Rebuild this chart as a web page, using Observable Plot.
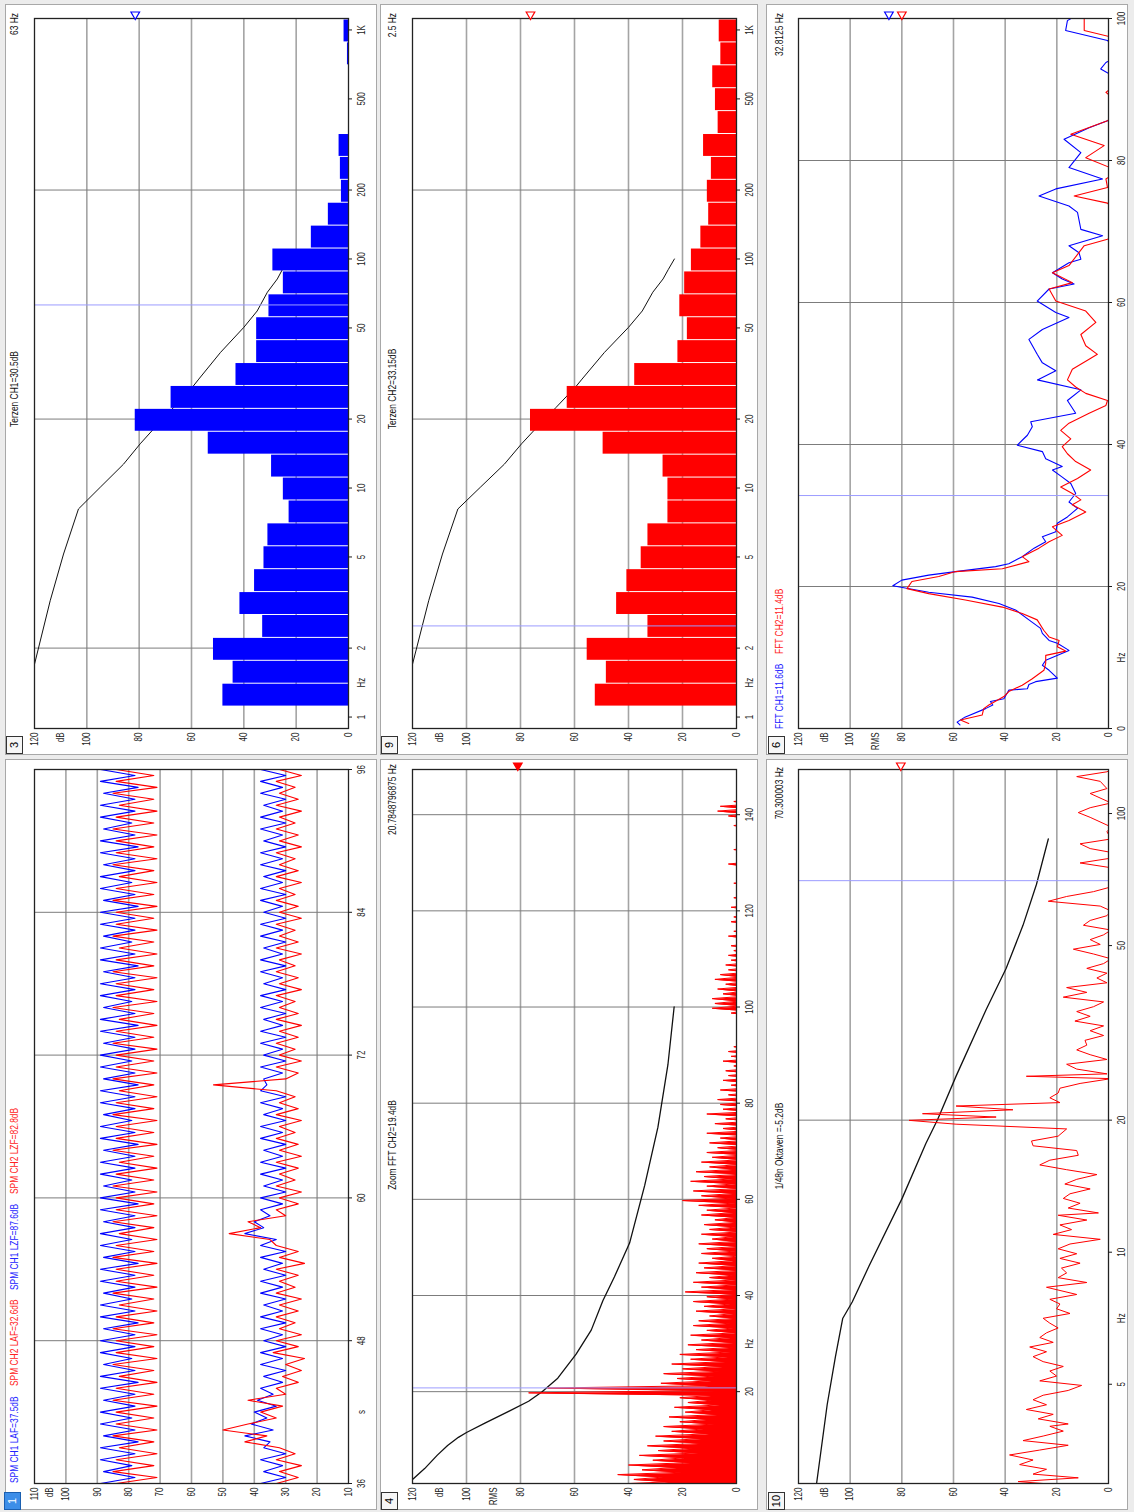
<!DOCTYPE html>
<html><head><meta charset="utf-8">
<script src="https://cdn.jsdelivr.net/npm/d3@7"></script>
<script src="https://cdn.jsdelivr.net/npm/@observablehq/plot@0.6"></script>
<style>
html,body{margin:0;padding:0;background:#ececec;}
body{width:1134px;height:1512px;overflow:hidden;position:relative;}
#root{position:absolute;left:0;top:0;width:1512px;height:1134px;transform-origin:0 0;transform:translate(0px,1512px) rotate(-90deg);background:#ececec;font-family:"Liberation Sans",Arial,sans-serif;}
.panel{position:absolute;background:#fff;border:1px solid #a8a8a8;box-sizing:border-box;}
.t{position:absolute;font-size:10.5px;line-height:12px;white-space:nowrap;color:#111;transform-origin:0 50%;}
.tab{position:absolute;height:15px;min-width:14px;padding:0 1px;border:1px solid #333;background:#f6f6f6;font-size:11px;text-align:center;line-height:15px;font-family:"Liberation Sans",Arial,sans-serif;color:#000;}
.tab.sel{background:#3d8ee8;color:#fff;border-color:#1a5fb0;}
svg{position:absolute;}
</style></head>
<body><div id="root"></div>
<script>
// ---------------- DATA ----------------
// Panel 1: SPM time history (s), 0.5 s samples from 36 s
const spmStart = 36, spmStep = 0.5;
const lafCh1 = [38,30,37,31,38,30,37,35,43,34, 41,36,40,33,39,34,38,31,37,30,
  38,31,38,30,37,31,38,30,38,31, 37,30,38,31,38,30,37,31,38,30,
  38,33,43,37,40,35,38,31,38,30, 37,31,38,30,38,31,37,30,38,31,
  38,30,37,31,38,30,38,36,37,31, 38,30,37,31,38,30,38,31,37,30,
  38,31,38,30,37,31,38,30,38,31, 37,30,38,31,38,30,37,31,38,30,
  38,31,37,30,38,31,38,30,37,31, 38,30,38,31,37,30,38,31,38,30, 38];
const lafCh2 = [33,26,32,25,33,27,32,43,36,50, 42,33,38,31,42,30,33,26,31,25,
  30,24,34,26,33,25,32,27,33,26, 32,25,33,27,32,26,33,24,32,26,
  33,35,48,38,42,30,33,26,32,25, 33,27,32,26,33,25,32,26,33,27,
  32,25,33,26,32,27,33,53,30,26, 33,25,32,27,33,26,32,25,33,26,
  32,27,33,25,32,26,33,27,32,25, 33,26,32,27,33,25,32,26,33,27,
  32,25,33,26,32,27,33,25,32,26, 33,27,32,25,33,26,32,27,33,25, 32];
const lzfCh1 = [89,78,88,79,89,78,89,77,88,78, 89,79,89,78,88,78,89,77,89,78,
  88,79,89,78,89,78,88,77,89,78, 89,79,88,78,89,78,89,77,88,78,
  89,79,89,78,88,78,89,77,89,78, 88,79,89,78,89,78,88,77,89,78,
  89,79,88,78,89,78,89,77,88,78, 89,79,89,78,88,78,89,77,89,78,
  88,79,89,78,89,78,88,77,89,78, 89,79,88,78,89,78,89,77,88,78,
  89,79,89,78,88,78,89,77,89,78, 88,79,89,78,89,78,88,77,89,78, 89];
const lzfCh2 = [84,71,85,72,84,71,83,72,85,71, 84,72,84,71,85,72,84,71,83,72,
  85,71,84,72,84,71,85,72,84,71, 83,72,85,71,84,72,84,71,85,72,
  84,71,83,72,85,71,84,72,84,71, 85,72,84,71,83,72,85,71,84,72,
  84,71,85,72,84,71,83,72,85,71, 84,72,84,71,85,72,84,71,83,72,
  85,71,84,72,84,71,85,72,84,71, 83,72,85,71,84,72,84,71,85,72,
  84,71,83,72,85,71,84,72,84,71, 85,72,84,71,83,72,85,71,84,72, 84];
const spmTicks = [36,48,60,72,84,96];

// Panels 3 & 9: third-octave bands
const terzBands = [1.25,1.6,2,2.5,3.15,4,5,6.3,8,10,12.5,16,20,25,31.5,40,50,63,80,100,125,160,200,250,315,400,500,630,800,1000];
const terzCh1 = [48.0,44.1,51.6,32.8,41.5,35.9,32.3,30.8,22.7,24.9,29.4,53.6,81.5,67.8,43.0,35.1,35.1,30.4,24.9,28.9,14.2,7.7,2.7,3.1,3.6,0,0,0,0.4,1.7];
const terzCh2 = [52.3,48.2,55.3,32.8,44.4,40.6,35.3,32.8,25.4,25.4,27.2,49.4,76.3,62.7,37.7,21.7,18.2,21.0,19.2,16.7,13.2,10.3,10.8,9.3,12.2,6.8,7.8,8.8,5.8,6.4];
const thrHz = [1.7,3.22,5.15,8.1,10.07,12.7,15.6,18.1,22.5,27.8,29.9,39.1,50.3,59.3,71.6,81.8,89.8,100];
const thrDb = [120,114,108.9,103.2,94.9,86,79.6,74.5,66.8,59.4,57.2,48.9,40,34.9,31,27.2,25.3,23];
const terzTicks = [1,2,5,10,20,50,100,200,500,1000];

// Panel 4: zoom FFT CH2, per 1 Hz bin: trough and peak
const fft4Lo = [30,25,27,20,22,17,19,14,16,12, 13,10,12,8,10,7,9,6,9,8,
  8,10,9,8,6,5,4,3,2,1, 1,2,0,1,2,0,1,0,2,1,
  0,1,-1,0,1,-1,0,1,-2,0, -1,0,1,-2,0,-1,0,1,-1,0,
  1,0,-1,0,1,-2,0,-1,-2,-3, -3,-4,-3,-5,-4,-5,-6,-5,-6,-5,
  -6,-5,-7,-6,-5,-7,-6,-7,-6,-7, -7,-7,-7,-7,-7,-7,-7,-7,-7,-3,
  -2,-1,-3,-2,-4,-3,-2,-5,-6,-5, -6,-5,-6,-7,-6,-7,-6,-7,-6,-7,
  -7,-6,-7,-7,-6,-7,-7,-6,-7,-5, -7,-6,-7,-7,-6,-7,-7,-6,-7,-5,
  -4,-5,-7,-7,-7,-7,-7,-7,-7,-7];
const fft4Hi = [46,38,44,35,40,31,36,29,33,27, 30,24,27,21,25,19,23,18,21,77,
  70,28,22,27,20,24,17,21,15,18, 13,17,11,16,14,10,15,12,16,11,
  19,13,16,10,15,12,14,9,13,11, 14,9,13,10,12,8,13,11,14,20,
  13,16,11,17,12,15,10,13,9,11, 7,10,6,11,5,8,4,11,5,6,
  7,3,6,2,5,3,4,1,5,2, 3,1,0,-1,0,-2,-1,0,2,9,
  8,9,5,7,4,8,6,3,4,2, 3,1,2,0,3,1,0,2,1,0,
  2,0,1,-1,0,1,-1,0,-2,3, 0,-1,1,-2,0,-1,0,1,0,3,
  7,6,1,-2,-3,-2,-3,-2,-3,-2];
const thr4Hz = [1.75,4,6.8,8.8,10.5,11.5,13.5,16,18,20,22.8,27.8,32.8,38.9,43.9,50.9,62.9,75,88,100];
const thr4Db = [120,115.5,110.8,107,103,100,93,84,77,72,66.2,59.4,53.8,49.5,45.2,39.6,34,29.1,25.4,23.1];
const fft4Ticks = [20,40,60,80,100,120,140];

// Panel 6: FFT CH1 / CH2 (0-100 Hz)
const fftCh1Hz = [0.5,0.9,1.6,2.8,3.3,3.8,4.2,5.4,5.6,6.2, 6.6,7.1,8.2,8.9,9.6,11.0,12.0,12.4,13.4,14.1,
  15.3,16.7,17.6,18.5,19.2,20.1,20.9,21.6,22.1,22.8, 23.2,24.2,25.4,26.3,27.0,27.7,28.9,29.8,31.0,31.9,
  33.1,34.5,35.4,36.4,36.9,38.0,39.0,39.9,40.6,41.3, 42.5,43.2,44.4,46.2,47.7,49.1,50.4,51.5,52.7,54.8,
  56.2,57.9,58.6,60.2,61.9,62.6,63.3,64.2,65.6,66.1, 67.0,68.0,69.4,70.3,72.7,73.6,75.0,76.0,77.4,79.0,
  81.1,83.0,84.6,85.6,87.0,91.0,92.9,93.8,95.0,96.9, 98.3,99.7,100];
const fftCh1Db = [57.5,58.6,55.6,47.6,44.8,45.7,40.5,38.6,31.4,30.8, 28.2,19.8,23.0,25.6,24.3,15.3,19.8,23.0,25.6,26.3,
  30.8,36.0,42.4,52.8,69.6,83.5,80.0,69.6,59.2,43.7, 38.6,33.4,28.8,24.3,25.6,20.4,19.8,15.9,12.0,15.3,
  12.7,14.6,17.9,21.7,17.9,24.3,25.6,35.3,33.4,31.4, 29.5,30.1,12.7,15.9,10.7,27.5,20.4,25.6,27.6,30.8,
  25.6,15.3,20.4,27.6,23.0,13.3,17.9,21.7,15.3,10.7, 11.4,15.3,2.3,10.7,12.0,15.3,26.9,20.4,2.3,15.3,
  10.7,17.2,7.5,0.4,-8,-6,3.0,1.0,-5,0.4, 16.6,15.9,14.5];
const fftCh2Hz = [0.7,1.2,1.9,2.8,3.3,4.5,5.2,6.1,7.0,8.2, 9.2,10.3,10.9,11.5,12.4,12.9,13.8,15.3,16.2,17.1,
  18.1,19.0,19.7,20.7,21.4,22.1,22.5,23.5,24.2,25.4, 26.3,27.2,28.4,29.3,30.5,31.5,32.2,33.1,34.0,35.2,
  36.4,37.6,38.7,39.7,40.8,42.0,43.0,44.4,45.5,46.2, 47.2,48.1,49.1,50.6,52.0,52.7,53.9,55.5,57.2,58.8,
  60.2,61.9,62.8,64.2,65.2,68.0,68.9,71.0,74.0,75.0, 76.2,77.4,78.5,80.4,82.1,83.7,85.6,87.5,89.6,91.5,
  97.3,98.3,100];
const fftCh2Db = [54.1,57.3,48.9,48.3,46.3,40.5,38.6,33.4,29.5,25.0, 24.3,24.3,16.6,19.8,19.1,23.0,25.0,27.6,33.4,41.1,
  55.4,69.6,78.0,76.1,65.7,59.2,41.1,30.8,33.4,26.9, 23.0,17.9,21.7,15.3,8.8,14.0,10.7,14.0,18.5,12.0,
  6.9,12.7,15.9,17.9,14.6,18.5,15.3,7.5,1.0,0.4, 8.8,12.7,15.9,14.0,7.5,4.3,8.8,10.7,4.9,8.8,
  20.4,23.0,14.0,21.7,15.3,9.4,0.4,-8,0.4,13.3, 0.4,1.0,-4,8.8,1.7,14.6,0.4,-6,1.0,-6,
  -2,9.4,9.4];
const fft6Ticks = [0,20,40,60,80,100];

// Panel 10: 1/48 octave CH2
const oct48Hz = [2.97,3.00,3.06,3.12,3.20,3.28,3.36,3.45,3.54,3.63, 3.72,3.81,3.91,4.01,4.06,4.17,4.27,4.38,4.49,4.61,
  4.72,4.84,4.97,5.09,5.22,5.36,5.49,5.63,5.78,5.93, 6.08,6.23,6.39,6.55,6.72,6.89,7.07,7.25,7.43,7.62,
  7.81,8.01,8.32,8.53,8.75,8.97,9.20,9.44,9.68,9.92, 10.18,10.44,10.70,10.98,11.26,11.54,11.84,12.14,12.29,12.61,
  12.93,13.26,13.59,13.94,14.30,14.66,15.03,15.42,15.81,16.21, 16.63,17.05,17.48,17.93,18.39,19.10,19.58,19.98,20.33,20.69,
  21.12,21.54,21.93,22.49,23.06,23.65,24.25,24.87,25.18,25.50, 26.15,26.82,27.50,28.20,28.92,29.65,30.41,31.19,31.98,32.80,
  33.64,34.49,35.37,36.28,37.20,38.14,39.11,40.11,41.13,42.18, 43.26,44.36,45.49,46.65,47.84,49.06,50.30,51.59,52.90,54.25,
  55.63,57.05,58.50,59.98,61.52,63.10,64.70,66.36,68.04,69.77, 71.54,73.38,75.24,77.15,79.13,81.14,83.20,85.31,87.50,90.89,
  93.20,98.02,100.5,103.1,105.7,111.1,114.0,118.4,121.4,124.5, 126.0];
const oct48Db = [25.3,35.0,11.7,29.2,24.0,34.4,29.2,38.3,26.6,15.6, 33.1,25.3,17.5,22.7,15.6,27.2,21.4,31.8,24.0,29.2,
  25.3,15.6,10.4,26.6,20.1,22.7,17.5,25.3,29.2,24.0, 30.5,21.4,26.6,24.0,19.5,22.7,25.3,14.9,20.1,18.8,
  22.7,12.3,24.0,8.4,19.5,16.2,18.2,11.0,18.8,12.3, 19.5,14.9,3.2,21.4,14.3,18.8,8.4,19.5,3.9,15.6,
  11.0,17.5,14.9,7.1,16.9,12.3,4.5,16.2,26.6,22.7, 11.7,12.3,29.2,29.8,19.5,16.2,59.0,77.2,43.5,72.0,
  37.0,59.0,18.8,22.7,19.5,18.8,11.0,-1,31.8,0.6, 12.3,16.2,0.6,7.1,12.3,8.4,9.1,1.9,7.1,1.9,
  13.0,7.1,12.3,5.8,1.9,17.5,8.4,16.2,0.6,4.5, 0.6,8.4,1.9,-1,5.8,13.6,3.2,7.1,1.9,-1,
  9.7,7.1,0.6,-1,3.2,23.3,16.2,5.8,-1,-2, -1,-3,-1,11.0,-1,-3,7.1,11.0,-1,0.6,
  -1,7.1,11.7,7.1,-1,7.1,0.6,3.2,12.3,0.6, -1];
const thr10Hz = [2.97,4.49,5.78,7.06,7.7,9.3,13.3,17.7,20.1,25.2,35.8,44.4,55.6,68.9,87.5];
const thr10Db = [113,108.9,105.7,102.9,99.2,92.7,79.8,70.7,66.1,59.0,47.3,39.6,33.1,27.9,23.3];
const oct48Ticks = [5,10,20,50,100];

// Cursors and peak markers
const cursor3 = 63, cursor9 = 2.5, cursor4 = 20.7848796875, cursor6 = 32.8125, cursor10 = 70.300003;
const peak3 = 81.5, peak9 = 76.3, peak4 = 81, peak6Ch1 = 85, peak6Ch2 = 80, peak10 = 80.4;

// ---------------- DRAWING ----------------
const root = document.getElementById("root");
const FONT = '"Liberation Sans",Arial,sans-serif';
const SQUEEZE = 0.8;
const BLUE = "#0000ff", RED = "#ff0000", CUR = "#9c9cff", GV = "#a4a4a4", GF = "#7c7c7c";

function div(cls, x, y, w, h) {
  const d = document.createElement("div");
  d.className = cls;
  d.style.left = x + "px"; d.style.top = y + "px";
  if (w != null) d.style.width = w + "px";
  if (h != null) d.style.height = h + "px";
  root.appendChild(d);
  return d;
}
function text(s, x, y, anchor = "start", color = "#111") {
  const d = div("t", x, y - 6);
  d.textContent = s;
  d.style.color = color;
  const shift = anchor === "middle" ? -SQUEEZE * 50 : anchor === "end" ? -SQUEEZE * 100 : 0;
  d.style.transform = `translateX(${shift}%) scaleX(${SQUEEZE})`;
  return d;
}
function legend(items, x, y) {
  let cx = x;
  for (const [s, c] of items) {
    const d = text(s, cx, y, "start", c);
    cx += d.getBoundingClientRect().height + 10; // root is rotated: on-screen height = text width
  }
}
function tab(s, x, y, sel) {
  const d = div("tab" + (sel ? " sel" : ""), x, y);
  d.textContent = s;
}

function panelPlot(p) {
  const fmt = p.xFmt || (d => String(d));
  const svg = Plot.plot({
    width: p.w, height: p.h,
    marginLeft: p.ml, marginRight: p.mr, marginTop: p.mt, marginBottom: p.mb,
    x: {...p.x, label: null}, y: {...p.y, label: null},
    style: {fontFamily: FONT, fontSize: "10px", background: "transparent", color: "#1a1a1a", overflow: "visible"},
    marks: [
      Plot.gridY(p.yGrid, {stroke: GV, strokeOpacity: 1, strokeWidth: 1.6}),
      Plot.gridX(p.xGrid, {stroke: GF, strokeOpacity: 1, strokeWidth: 1}),
      ...p.marks,
      Plot.frame({stroke: "#222", strokeWidth: 1.3}),
      Plot.axisY(p.yTicks, {tickSize: 0, tickPadding: 4, tickFormat: p.yFmt, label: null}),
      Plot.axisX(p.xTicks, {tickSize: 4, tickFormat: () => "", label: null}),
      Plot.text(p.xTicks, {x: d => d, frameAnchor: "bottom", dy: 13, lineAnchor: "middle", text: fmt, fill: "#1a1a1a"}),
      Plot.text([p.unitAt], {x: d => d, frameAnchor: "bottom", dy: 13, lineAnchor: "middle", text: () => p.unit, fill: "#1a1a1a"}),
      ...(p.after || [])
    ]
  });
  svg.style.left = p.left + "px";
  svg.style.top = p.top + "px";
  root.appendChild(svg);
  svg.querySelectorAll("text").forEach(t => {
    const len = t.getComputedTextLength();
    if (len > 0) {
      t.setAttribute("textLength", (len * SQUEEZE).toFixed(2));
      t.setAttribute("lengthAdjust", "spacingAndGlyphs");
    }
  });
}
const marker = (v, color, filled) => Plot.dot([v], {y: d => d, frameAnchor: "right", dx: 4, symbol: "triangle", rotate: -90, r: 3.2, stroke: color, strokeWidth: 1.2, fill: filled ? color : "white", clip: false});
const fmtDb = (unitAt, rmsAt) => d => d === unitAt ? "dB" : d === rmsAt ? "RMS" : String(d);

// panel backgrounds
div("panel", 2, 5, 751, 372);
div("panel", 2, 380, 751, 378);
div("panel", 2, 766, 751, 362);
div("panel", 757, 5, 751, 372);
div("panel", 757, 380, 751, 378);
div("panel", 757, 766, 751, 362);

// Layout constants (frames)
const L = {left: 0, w: 753, ml: 28, mr: 11};
const R = {left: 757, w: 755, ml: 26, mr: 19};
const T = {top: 0, h: 378, mt: 34, mb: 30};
const M = {top: 381, h: 375, mt: 31, mb: 20};
const B = {top: 759, h: 375, mt: 39, mb: 26};

// Panel 1: SPM
const spmTime = lafCh1.map((_, i) => spmStart + i * spmStep);
panelPlot({...L, ...T,
  x: {domain: [36, 96]}, y: {domain: [10, 110]},
  yGrid: [20,30,40,50,60,70,80,90,100], xGrid: [48,60,72,84],
  yTicks: [110,105,100,90,80,70,60,50,40,30,20,10], yFmt: fmtDb(105),
  xTicks: spmTicks, unitAt: 42, unit: "s",
  marks: [
    Plot.line(lzfCh1, {x: spmTime, y: d => d, stroke: BLUE, strokeWidth: 1.1, clip: true}),
    Plot.line(lzfCh2, {x: spmTime, y: d => d, stroke: RED, strokeWidth: 1.1, clip: true}),
    Plot.line(lafCh1, {x: spmTime, y: d => d, stroke: BLUE, strokeWidth: 1.1, clip: true}),
    Plot.line(lafCh2, {x: spmTime, y: d => d, stroke: RED, strokeWidth: 1.1, clip: true})
  ]
});

// Panels 3 & 9: Terzen
const bandIdx = terzBands.map((_, i) => i + 1);
const bandLo = bandIdx.map(n => Math.pow(10, (n - 0.5) / 10));
const bandHi = bandIdx.map(n => Math.pow(10, (n + 0.5) / 10));
function terzPanel(rowCfg, values, color, cursor, peak) {
  panelPlot({...R, ...rowCfg,
    x: {type: "log", domain: [Math.pow(10, -0.05), Math.pow(10, 3.05)]}, y: {domain: [0, 120]},
    yGrid: [20,40,60,80,100], xGrid: [2,20,200],
    yTicks: [120,110,100,80,60,40,20,0], yFmt: fmtDb(110),
    xTicks: terzTicks, xFmt: d => d === 1000 ? "1K" : String(d), unitAt: Math.SQRT2, unit: "Hz",
    marks: [
      Plot.line(thrDb, {x: thrHz, y: d => d, stroke: "#111", strokeWidth: 1, clip: true}),
      Plot.rect(values, {x1: bandLo, x2: bandHi, y1: () => 0, y2: d => d, fill: color, insetLeft: 0.5, insetRight: 0.5, clip: true}),
      Plot.ruleX([cursor], {stroke: CUR, strokeWidth: 1})
    ],
    after: [marker(peak, color, false)]
  });
}
terzPanel(T, terzCh1, BLUE, cursor3, peak3);
terzPanel(M, terzCh2, RED, cursor9, peak9);

// Panel 4: Zoom FFT
const fft4 = [];
fft4Lo.forEach((lo, i) => { fft4.push({f: i + 0.25, v: lo}); fft4.push({f: i + 0.75, v: fft4Hi[i]}); });
panelPlot({...L, ...M,
  x: {domain: [0.9, 149.4]}, y: {domain: [0, 120]},
  yGrid: [20,40,60,80,100], xGrid: fft4Ticks,
  yTicks: [120,110,100,90,80,60,40,20,0], yFmt: fmtDb(110, 90),
  xTicks: fft4Ticks, unitAt: 30, unit: "Hz",
  marks: [
    Plot.line(thr4Db, {x: thr4Hz, y: d => d, stroke: "#111", strokeWidth: 1.3, clip: true}),
    Plot.areaY(fft4, {x: "f", y1: () => 0, y2: "v", fill: RED, clip: true}),
    Plot.line(fft4, {x: "f", y: "v", stroke: RED, strokeWidth: 1, clip: true}),
    Plot.ruleX([cursor4], {stroke: CUR, strokeWidth: 1})
  ],
  after: [marker(peak4, RED, true)]
});

// Panel 6: FFT CH1/CH2
panelPlot({...R, ...B,
  x: {domain: [0, 100]}, y: {domain: [0, 120]},
  yGrid: [20,40,60,80,100], xGrid: [20,40,60,80],
  yTicks: [120,110,100,90,80,60,40,20,0], yFmt: fmtDb(110, 90),
  xTicks: fft6Ticks, unitAt: 10, unit: "Hz",
  marks: [
    Plot.line(fftCh1Db, {x: fftCh1Hz, y: d => d, stroke: BLUE, strokeWidth: 1.1, clip: true}),
    Plot.line(fftCh2Db, {x: fftCh2Hz, y: d => d, stroke: RED, strokeWidth: 1.1, clip: true}),
    Plot.ruleX([cursor6], {stroke: CUR, strokeWidth: 1})
  ],
  after: [marker(peak6Ch1, BLUE, false), marker(peak6Ch2, RED, false)]
});

// Panel 10: 1/48 octave
panelPlot({...L, ...B,
  x: {type: "log", domain: [2.97, 126]}, y: {domain: [0, 120]},
  yGrid: [20,40,60,80,100], xGrid: [20],
  yTicks: [120,110,100,80,60,40,20,0], yFmt: fmtDb(110),
  xTicks: oct48Ticks, unitAt: Math.sqrt(50), unit: "Hz",
  marks: [
    Plot.line(thr10Db, {x: thr10Hz, y: d => d, stroke: "#111", strokeWidth: 1.3, clip: true}),
    Plot.line(oct48Db, {x: oct48Hz, y: d => d, stroke: RED, strokeWidth: 1, clip: true}),
    Plot.ruleX([cursor10], {stroke: CUR, strokeWidth: 1})
  ],
  after: [marker(peak10, RED, false)]
});

// Titles
legend([["SPM CH1 LAF=37.5dB", "#2222ff"], ["SPM CH2 LAF=32.6dB", "#ff2222"], ["SPM CH1 LZF=87.6dB", "#2222ff"], ["SPM CH2 LZF=82.8dB", "#ff2222"]], 29, 14);
text("Terzen CH1=30.5dB", 1123, 14, "middle");
text("63 Hz", 1499, 14, "end");
text("Zoom FFT CH2=19.4dB", 367, 392, "middle");
text("20.7848796875 Hz", 748, 392, "end");
text("Terzen CH2=33.15dB", 1123, 392, "middle");
text("2.5 Hz", 1499, 392, "end");
text("1/48n Oktaven =-5.2dB", 366, 779, "middle");
text("70.300003 Hz", 745, 779, "end");
legend([["FFT CH1=11.6dB", "#2222ff"], ["FFT CH2=11.4dB", "#ff2222"]], 783, 779);
text("32.8125 Hz", 1499, 779, "end");

// Tabs
tab("1", 2, 4, true);
tab("3", 758, 6, false);
tab("4", 2, 381, false);
tab("9", 758, 381, false);
tab("10", 2, 768, false);
tab("6", 758, 768, false);
</script>
</body></html>
